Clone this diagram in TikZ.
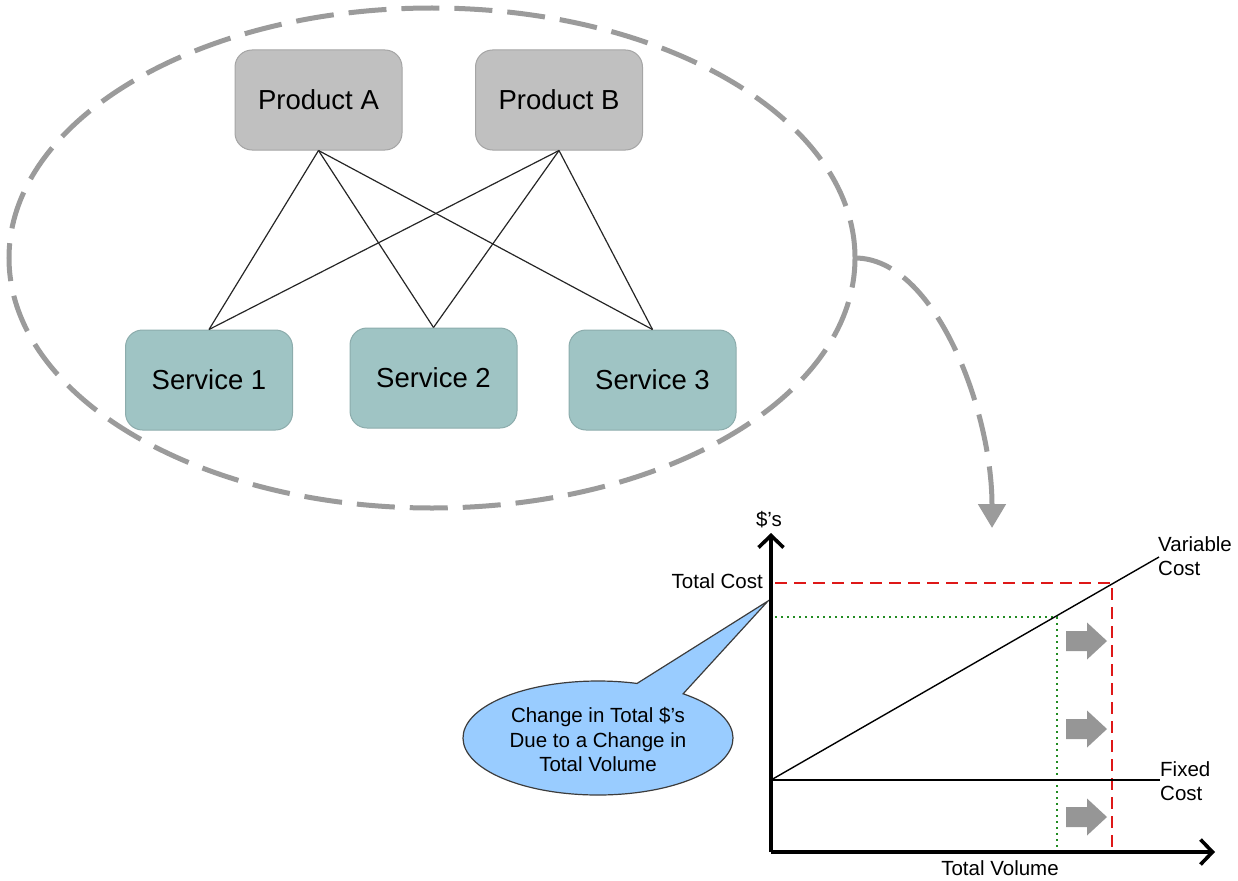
\documentclass[tikz,border=0pt]{standalone}
\usepackage{fontspec}
\setmainfont{Liberation Sans}
\usetikzlibrary{arrows.meta,shapes.geometric}

\definecolor{prodfill}{RGB}{192,192,192}
\definecolor{prodline}{RGB}{165,165,165}
\definecolor{servfill}{RGB}{159,196,196}
\definecolor{servline}{RGB}{140,172,172}
\definecolor{dashgray}{RGB}{155,155,155}
\definecolor{costred}{RGB}{222,24,24}
\definecolor{costgreen}{RGB}{34,140,34}
\definecolor{bubblefill}{RGB}{153,204,255}
\definecolor{bubbleline}{RGB}{60,60,60}
\definecolor{shiftgray}{RGB}{150,150,150}

\begin{document}
\begin{tikzpicture}[x=1pt,y=-1pt,
  itembox/.style={rectangle, rounded corners=17pt, minimum width=167pt,
    minimum height=100pt, line width=1pt, font=\fontsize{27.5}{32}\selectfont},
  product/.style={itembox, fill=prodfill, draw=prodline},
  service/.style={itembox, fill=servfill, draw=servline},
  link/.style={draw=black!85, line width=1.2pt},
  groupline/.style={draw=dashgray, line width=5pt, dash pattern=on 38pt off 15pt},
  axis/.style={line width=3.6pt, -{Straight Barb[length=12pt,width=25pt]}},
  costline/.style={line width=1.4pt},
  newlevel/.style={draw=costred, line width=2.8pt, dash pattern=on 12pt off 7pt},
  oldlevel/.style={draw=costgreen, line width=2.8pt, dash pattern=on 2.4pt off 3.6pt},
  chartlabel/.style={inner sep=0pt, font=\fontsize{20.5}{24.5}\selectfont},
  bubble/.style={fill=bubblefill, draw=bubbleline, line width=1.2pt, line join=miter},
  shift/.pic={\fill[shiftgray] (-21,-10) -- (0,-10) -- (0,-18.5) -- (20,0)
      -- (0,18.5) -- (0,10) -- (-21,10) -- cycle;}
]
\useasboundingbox (0,0) rectangle (1238,880);

% dashed group around products and services
\node[ellipse, groupline, minimum width=846pt, minimum height=500pt,
  inner sep=0pt, outer sep=0pt] (group) at (432,258) {};

% products and services
\node[product] (pA) at (318.5,100) {Product A};
\node[product] (pB) at (559,100) {Product B};
\node[service] (s1) at (209,380) {Service 1};
\node[service] (s2) at (433.5,378) {Service 2};
\node[service] (s3) at (652.5,380) {Service 3};

\foreach \p in {pA,pB}
  \foreach \s in {s1,s2,s3}
    \draw[link] (\p.south) -- (\s.north);

% curved arrow down to the cost chart
\coordinate (chartIn) at (992,528);
\draw[groupline, -{Triangle[width=27pt,length=24pt]}]
  (group.east) .. controls (935,258) and (992,410) .. (chartIn);

% chart frame
\coordinate (origin) at (771,852);
\coordinate (yEnd) at (771,533);
\coordinate (xEnd) at (1215,852);
\coordinate (fixStart) at (771,780);
\coordinate (fixEnd) at (1160,780);
\coordinate (varEnd) at (1159,557);
\coordinate (tcLeft) at (775,583);
\coordinate (tcCorner) at (1112,583);
\coordinate (tcBase) at (1112,852);
\coordinate (ocLeft) at (775,617);
\coordinate (ocCorner) at (1057,617);
\coordinate (ocBase) at (1057,852);
\coordinate (bubbleTip) at (768,601);

% old and new cost levels
\draw[oldlevel] (ocLeft) -- (ocCorner) -- (ocBase);
\draw[newlevel] (tcLeft) -- (tcCorner) -- (tcBase);

% cost lines
\draw[costline] (fixStart) -- (fixEnd);
\draw[costline] (fixStart) -- (varEnd);

% shift arrows
\pic at (1087,641) {shift};
\pic at (1087,729) {shift};
\pic at (1087,817) {shift};

% speech bubble: ellipse with a pointer to the cost axis
\coordinate (bubbleC) at (598,738);
\draw[bubble] ([shift={(bubbleC)}]50.9:135pt and 57pt)
  arc[start angle=50.9, end angle=-286.8, x radius=135pt, y radius=57pt]
  -- (bubbleTip) -- cycle;
\node[align=center, inner sep=0pt, font=\fontsize{20.5}{24.5}\selectfont]
  (bubbleText) at (598,740)
  {Change in Total \$’s\\Due to a Change in\\Total Volume};

% axes
\draw[axis] (origin) -- (yEnd);
\draw[axis] (origin) -- (xEnd);

% labels
\node[chartlabel] (yLabel) at (769,520) {\$’s};
\node[chartlabel, anchor=east] (tcLabel) at (763,581) {Total Cost};
\node[chartlabel, anchor=north] (xLabel) at (1000,860) {Total Volume};
\node[chartlabel, anchor=west, align=left] (varLabel) at (1158,556)
  {Variable\\Cost};
\node[chartlabel, anchor=west, align=left] (fixLabel) at (1160,781)
  {Fixed\\Cost};
\end{tikzpicture}
\end{document}
